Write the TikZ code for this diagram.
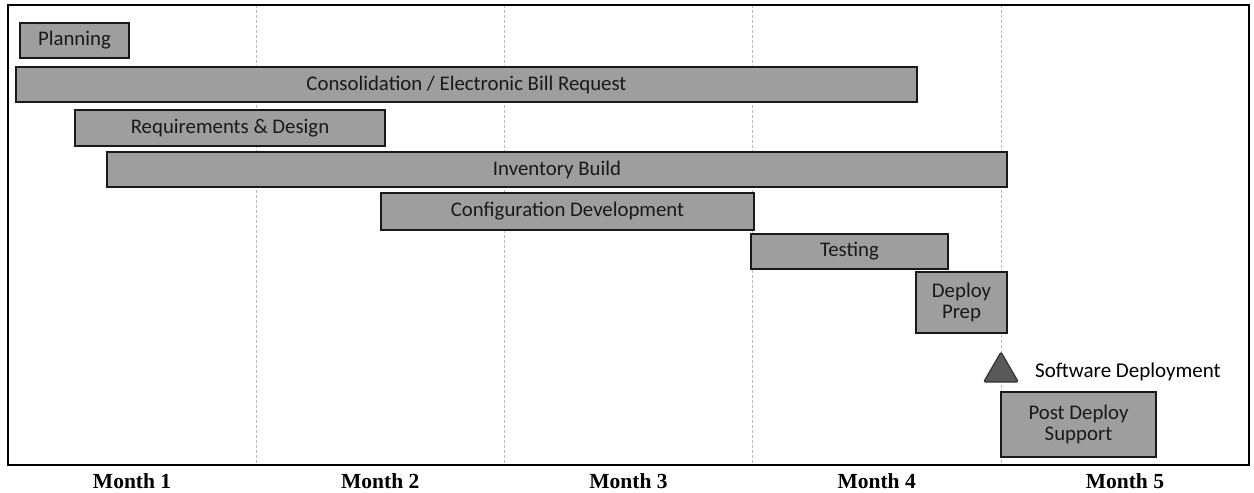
\documentclass[tikz,border=0pt]{standalone}
\usepackage{fontspec}
\newfontfamily\barfont{Carlito}
\newfontfamily\monthfont{Liberation Serif}
\definecolor{bargray}{rgb}{0.62,0.62,0.62}
\definecolor{gridgray}{rgb}{0.72,0.72,0.72}
\definecolor{markgray}{rgb}{0.35,0.35,0.35}
\usetikzlibrary{shapes.geometric,positioning}

\begin{document}
\begin{tikzpicture}[x=1pt,y=-1pt,
        bar/.style={draw=black!90,line width=1.6pt,fill=bargray,inner sep=0pt,align=center,
            text=black!90,font=\barfont\fontsize{20.8}{21.5}\selectfont},
        month/.style={font=\monthfont\bfseries\fontsize{21.5}{23}\selectfont},
        milestone/.style={regular polygon,regular polygon sides=3,minimum size=40pt,inner sep=0pt,
            draw=black!80,line width=1.2pt,fill=markgray,rounded corners=2pt}]
        \useasboundingbox (0,0) rectangle (1254,493);
        % month columns
        \foreach \m in {1,...,4}
            \draw[gridgray,densely dashed,line width=0.6pt] ({8+248.2*\m},5) -- ({8+248.2*\m},465);
        \draw[line width=1.5pt] (8,5) rectangle (1249,465);
        \foreach \m in {1,...,5}
            \node[month] (month\m) at ({8+248.2*(\m-0.5)},481) {Month \m};
        % tasks
        \node[bar,minimum width=109pt,minimum height=35pt] (plan) at (74.5,40.5) {Planning};
        \node[bar,minimum width=901pt,minimum height=35pt] (consol) at (466.5,84.5) {Consolidation / Electronic Bill Request};
        \node[bar,minimum width=310pt,minimum height=36pt] (reqs) at (230,128) {Requirements \& Design};
        \node[bar,minimum width=900pt,minimum height=35pt] (inventory) at (557,169.5) {Inventory Build};
        \node[bar,minimum width=373pt,minimum height=37pt] (config) at (567.5,211.5) {Configuration Development};
        \node[bar,minimum width=197pt,minimum height=35pt] (testing) at (849.5,251.5) {Testing};
        \node[bar,minimum width=91pt,minimum height=61pt] (prep) at (961.5,302.5) {Deploy\\Prep};
        \node[milestone] (deploy) at (1001,372) {};
        \node[right=17pt of deploy.center,xshift=17pt,inner sep=0pt,anchor=west,
            font=\barfont\fontsize{21}{22}\selectfont] (deploylabel) {Software Deployment};
        \node[bar,minimum width=155pt,minimum height=65pt] (support) at (1078.5,424.5) {Post Deploy\\Support};
\end{tikzpicture}
\end{document}
